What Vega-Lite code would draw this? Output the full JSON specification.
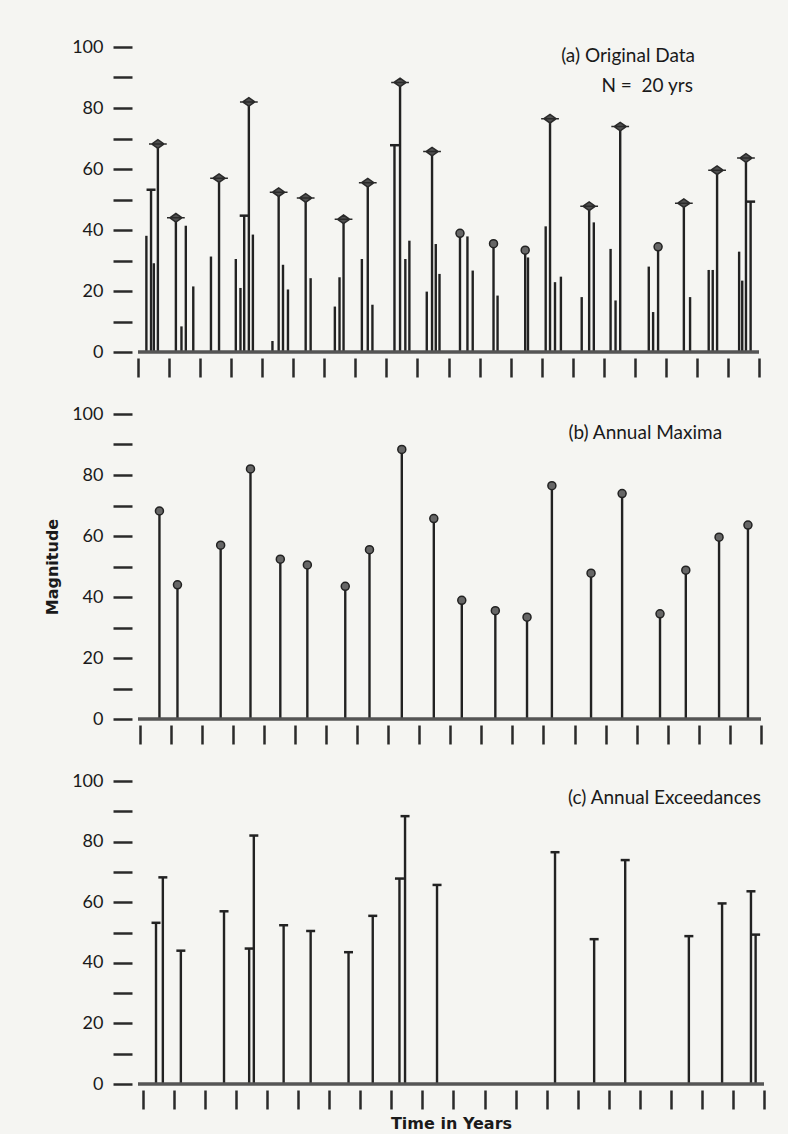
{
  "$schema": "https://vega.github.io/schema/vega-lite/v6.json",
  "background": "#f5f5f2",
  "padding": {"left": 44, "top": 38, "right": 24, "bottom": 2},
  "bounds": "flush",
  "spacing": 62,
  "datasets": {
    "events": [
      {"t": 0.27, "v": 38.1, "kind": "o"},
      {"t": 0.42, "v": 53.2, "kind": "e"},
      {"t": 0.51, "v": 29.1, "kind": "o"},
      {"t": 0.64, "v": 68.2, "kind": "d"},
      {"t": 1.22, "v": 44.0, "kind": "d"},
      {"t": 1.40, "v": 8.4, "kind": "o"},
      {"t": 1.54, "v": 41.4, "kind": "o"},
      {"t": 1.78, "v": 21.5, "kind": "o"},
      {"t": 2.35, "v": 31.3, "kind": "o"},
      {"t": 2.61, "v": 57.0, "kind": "d"},
      {"t": 3.15, "v": 30.5, "kind": "o"},
      {"t": 3.30, "v": 21.0, "kind": "o"},
      {"t": 3.42, "v": 44.7, "kind": "e"},
      {"t": 3.57, "v": 82.0, "kind": "d"},
      {"t": 3.70, "v": 38.5, "kind": "o"},
      {"t": 4.33, "v": 3.6, "kind": "o"},
      {"t": 4.53, "v": 52.4, "kind": "d"},
      {"t": 4.67, "v": 28.6, "kind": "o"},
      {"t": 4.83, "v": 20.5, "kind": "o"},
      {"t": 5.40, "v": 50.5, "kind": "d"},
      {"t": 5.56, "v": 24.2, "kind": "o"},
      {"t": 6.34, "v": 14.9, "kind": "o"},
      {"t": 6.49, "v": 24.5, "kind": "o"},
      {"t": 6.62, "v": 43.5, "kind": "d"},
      {"t": 7.21, "v": 30.5, "kind": "o"},
      {"t": 7.40, "v": 55.5, "kind": "d"},
      {"t": 7.55, "v": 15.5, "kind": "o"},
      {"t": 8.26, "v": 67.8, "kind": "e"},
      {"t": 8.44, "v": 88.4, "kind": "d"},
      {"t": 8.61, "v": 30.5, "kind": "o"},
      {"t": 8.74, "v": 36.5, "kind": "o"},
      {"t": 9.30, "v": 19.8, "kind": "o"},
      {"t": 9.47, "v": 65.7, "kind": "d"},
      {"t": 9.59, "v": 35.4, "kind": "o"},
      {"t": 9.71, "v": 25.6, "kind": "o"},
      {"t": 10.37, "v": 38.9, "kind": "c"},
      {"t": 10.61, "v": 37.9, "kind": "o"},
      {"t": 10.78, "v": 26.7, "kind": "o"},
      {"t": 11.45, "v": 35.5, "kind": "c"},
      {"t": 11.58, "v": 18.5, "kind": "o"},
      {"t": 12.47, "v": 33.4, "kind": "c"},
      {"t": 12.56, "v": 31.0, "kind": "o"},
      {"t": 13.13, "v": 41.2, "kind": "o"},
      {"t": 13.27, "v": 76.5, "kind": "d"},
      {"t": 13.43, "v": 22.9, "kind": "o"},
      {"t": 13.62, "v": 24.7, "kind": "o"},
      {"t": 14.29, "v": 18.0, "kind": "o"},
      {"t": 14.53, "v": 47.8, "kind": "d"},
      {"t": 14.68, "v": 42.5, "kind": "o"},
      {"t": 15.22, "v": 33.8, "kind": "o"},
      {"t": 15.38, "v": 16.9, "kind": "o"},
      {"t": 15.53, "v": 73.9, "kind": "d"},
      {"t": 16.45, "v": 28.0, "kind": "o"},
      {"t": 16.59, "v": 13.1, "kind": "o"},
      {"t": 16.75, "v": 34.5, "kind": "c"},
      {"t": 17.58, "v": 48.8, "kind": "d"},
      {"t": 17.78, "v": 18.0, "kind": "o"},
      {"t": 18.38, "v": 26.9, "kind": "o"},
      {"t": 18.51, "v": 26.9, "kind": "o"},
      {"t": 18.65, "v": 59.6, "kind": "d"},
      {"t": 19.36, "v": 32.9, "kind": "o"},
      {"t": 19.46, "v": 23.4, "kind": "o"},
      {"t": 19.58, "v": 63.6, "kind": "d"},
      {"t": 19.73, "v": 49.3, "kind": "e"}
    ]
  },
  "data": {"name": "events"},
  "vconcat": [
    {
      "width": 621,
      "height": 305,
      "layer": [
        {
          "mark": {"type": "rule", "color": "#222222", "strokeWidth": 2.4},
          "encoding": {
            "x": {
              "field": "t", "type": "quantitative",
              "scale": {"domain": [0, 20], "nice": false, "zero": false},
              "axis": {"values": [0,1,2,3,4,5,6,7,8,9,10,11,12,13,14,15,16,17,18,19,20], "labels": false, "title": null}
            },
            "y": {
              "field": "v", "type": "quantitative",
              "scale": {"domain": [0, 100], "nice": false},
              "axis": {"values": [0,10,20,30,40,50,60,70,80,90,100], "labelExpr": "datum.value % 20 === 0 ? datum.label : ''", "title": null}
            },
            "y2": {"datum": 0}
          }
        },
        {
          "data": {"values": [{}]},
          "mark": {"type": "rule", "color": "#555555", "strokeWidth": 3.5},
          "encoding": {"y": {"datum": 0}}
        },
        {
          "transform": [{"filter": "datum.kind === 'd'"}],
          "mark": {"type": "point", "shape": "M-1,0L0,-0.7L1,0L0,0.7Z M-1.45,0L1.45,0", "size": 150, "filled": true, "fill": "#505050", "stroke": "#2a2a2a", "strokeWidth": 1.5, "opacity": 1},
          "encoding": {"x": {"field": "t", "type": "quantitative"}, "y": {"field": "v", "type": "quantitative"}}
        },
        {
          "transform": [{"filter": "datum.kind === 'c'"}],
          "mark": {"type": "circle", "size": 64, "fill": "#666666", "stroke": "#222222", "strokeWidth": 1.5, "opacity": 1},
          "encoding": {"x": {"field": "t", "type": "quantitative"}, "y": {"field": "v", "type": "quantitative"}}
        },
        {
          "transform": [{"filter": "datum.kind === 'e'"}],
          "mark": {"type": "point", "shape": "M-1,0L1,0", "size": 81, "filled": false, "stroke": "#222222", "strokeWidth": 2.5, "opacity": 1},
          "encoding": {"x": {"field": "t", "type": "quantitative"}, "y": {"field": "v", "type": "quantitative"}}
        },
        {
          "data": {"values": [{}]},
          "mark": {"type": "text", "text": "(a) Original Data", "align": "right", "baseline": "middle", "font": "Lato", "fontSize": 19, "color": "#1a1a1a"},
          "encoding": {"x": {"datum": 17.94}, "y": {"datum": 97}}
        },
        {
          "data": {"values": [{}]},
          "mark": {"type": "text", "text": "N = \u00a020 yrs", "align": "right", "baseline": "middle", "font": "Lato", "fontSize": 19, "color": "#1a1a1a"},
          "encoding": {"x": {"datum": 17.87}, "y": {"datum": 87.3}}
        }
      ]
    },
    {
      "width": 623,
      "height": 305,
      "transform": [{"filter": "datum.kind === 'd' || datum.kind === 'c'"}],
      "layer": [
        {
          "mark": {"type": "rule", "color": "#222222", "strokeWidth": 2.4},
          "encoding": {
            "x": {
              "field": "t", "type": "quantitative",
              "scale": {"domain": [-0.05, 20], "nice": false, "zero": false},
              "axis": {"values": [0,1,2,3,4,5,6,7,8,9,10,11,12,13,14,15,16,17,18,19,20], "labels": false, "title": null}
            },
            "y": {
              "field": "v", "type": "quantitative",
              "scale": {"domain": [0, 100], "nice": false},
              "axis": {"values": [0,10,20,30,40,50,60,70,80,90,100], "labelExpr": "datum.value % 20 === 0 ? datum.label : ''", "title": "Magnitude", "titleFont": "DejaVu Sans", "titleFontSize": 16, "titleFontWeight": "bold", "titlePadding": 11, "titleColor": "#1a1a1a"}
            },
            "y2": {"datum": 0}
          }
        },
        {
          "data": {"values": [{}]},
          "mark": {"type": "rule", "color": "#555555", "strokeWidth": 3.5},
          "encoding": {"y": {"datum": 0}}
        },
        {
          "mark": {"type": "circle", "size": 64, "fill": "#666666", "stroke": "#222222", "strokeWidth": 1.5, "opacity": 1},
          "encoding": {"x": {"field": "t", "type": "quantitative"}, "y": {"field": "v", "type": "quantitative"}}
        },
        {
          "data": {"values": [{}]},
          "mark": {"type": "text", "text": "(b) Annual Maxima", "align": "right", "baseline": "middle", "font": "Lato", "fontSize": 19, "color": "#1a1a1a"},
          "encoding": {"x": {"datum": 18.75}, "y": {"datum": 93.7}}
        }
      ]
    },
    {
      "width": 626,
      "height": 303,
      "transform": [{"filter": "datum.kind === 'd' || datum.kind === 'e'"}],
      "layer": [
        {
          "mark": {"type": "rule", "color": "#222222", "strokeWidth": 2.4},
          "encoding": {
            "x": {
              "field": "t", "type": "quantitative",
              "scale": {"domain": [-0.16, 20], "nice": false, "zero": false},
              "axis": {"values": [0,1,2,3,4,5,6,7,8,9,10,11,12,13,14,15,16,17,18,19,20], "labels": false, "title": "Time in Years", "titleFont": "DejaVu Sans", "titleFontSize": 16, "titleFontWeight": "bold", "titlePadding": 5, "titleColor": "#1a1a1a"}
            },
            "y": {
              "field": "v", "type": "quantitative",
              "scale": {"domain": [0, 100], "nice": false},
              "axis": {"values": [0,10,20,30,40,50,60,70,80,90,100], "labelExpr": "datum.value % 20 === 0 ? datum.label : ''", "title": null}
            },
            "y2": {"datum": 0}
          }
        },
        {
          "data": {"values": [{}]},
          "mark": {"type": "rule", "color": "#555555", "strokeWidth": 3.5},
          "encoding": {"y": {"datum": 0}}
        },
        {
          "mark": {"type": "point", "shape": "M-1,0L1,0", "size": 81, "filled": false, "stroke": "#222222", "strokeWidth": 2.5, "opacity": 1},
          "encoding": {"x": {"field": "t", "type": "quantitative"}, "y": {"field": "v", "type": "quantitative"}}
        },
        {
          "data": {"values": [{}]},
          "mark": {"type": "text", "text": "(c) Annual Exceedances", "align": "right", "baseline": "middle", "font": "Lato", "fontSize": 19, "color": "#1a1a1a"},
          "encoding": {"x": {"datum": 19.9}, "y": {"datum": 94.3}}
        }
      ]
    }
  ],
  "config": {
    "view": {"stroke": null},
    "axis": {
      "domain": false,
      "grid": false,
      "ticks": true,
      "tickCount": 40,
      "tickSize": 19,
      "tickWidth": 2.5,
      "tickColor": "#2a2a2a",
      "offset": 6,
      "labelPadding": 10,
      "labelFont": "Lato",
      "labelFontSize": 18,
      "labelColor": "#1a1a1a",
      "labelOverlap": false,
      "labelBound": false,
      "labelFlush": false
    }
  }
}
